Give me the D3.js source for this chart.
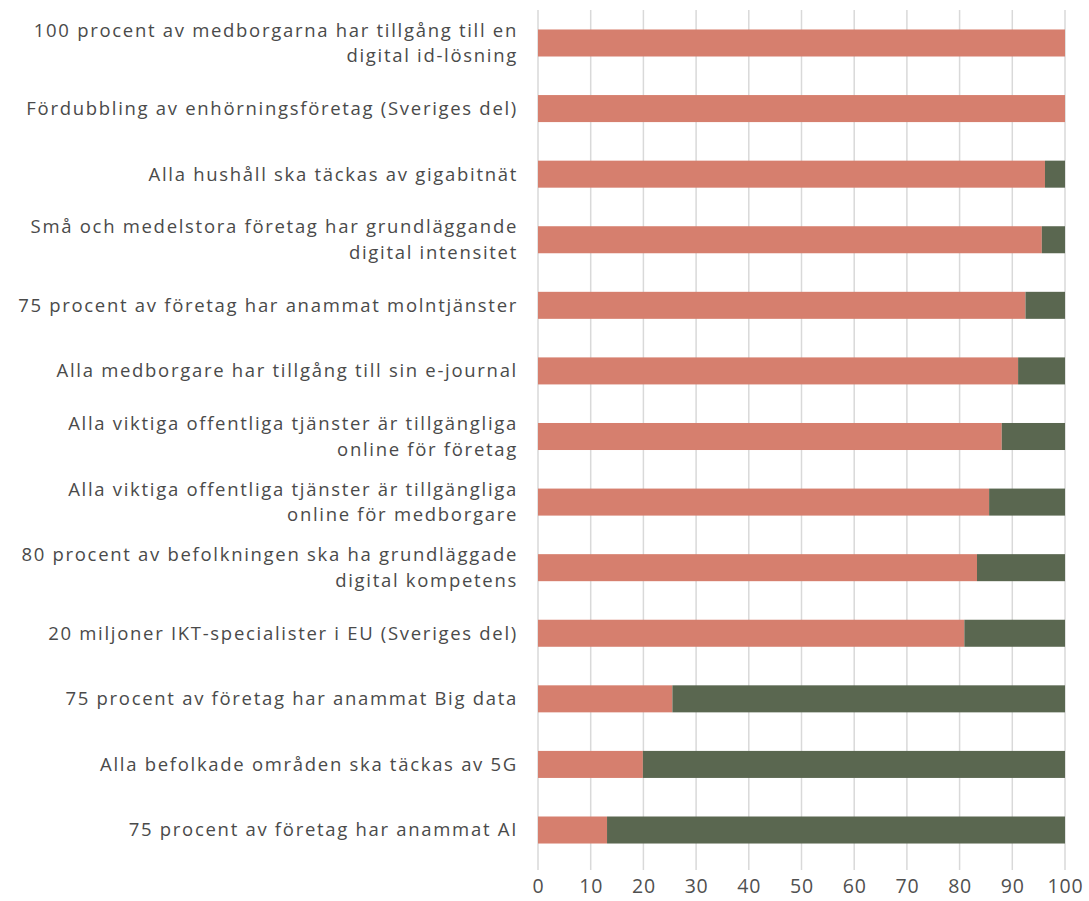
<!DOCTYPE html>
<html>
<head>
<meta charset="utf-8">
<script src="https://cdn.jsdelivr.net/npm/d3@7"></script>
<style>
  html, body { margin: 0; padding: 0; background: #fff; }
  svg { display: block; }
</style>
</head>
<body>
<svg id="chart" width="1089" height="901"></svg>
<script>
const categories = [
  "100 procent av medborgarna har tillgång till en\ndigital id-lösning",
  "Fördubbling av enhörningsföretag (Sveriges del)",
  "Alla hushåll ska täckas av gigabitnät",
  "Små och medelstora företag har grundläggande\ndigital intensitet",
  "75 procent av företag har anammat molntjänster",
  "Alla medborgare har tillgång till sin e-journal",
  "Alla viktiga offentliga tjänster är tillgängliga\nonline för företag",
  "Alla viktiga offentliga tjänster är tillgängliga\nonline för medborgare",
  "80 procent av befolkningen ska ha grundläggade\ndigital kompetens",
  "20 miljoner IKT-specialister i EU (Sveriges del)",
  "75 procent av företag har anammat Big data",
  "Alla befolkade områden ska täckas av 5G",
  "75 procent av företag har anammat AI"
];
const achieved = [100, 100, 96.2, 95.6, 92.5, 91.1, 88.0, 85.6, 83.3, 80.9, 25.5, 19.9, 13.1];
const remaining = [0, 0, 3.8, 4.4, 7.5, 8.9, 12.0, 14.4, 16.7, 19.1, 74.5, 80.1, 86.9];
const xTicks = [0, 10, 20, 30, 40, 50, 60, 70, 80, 90, 100];
const seriesKeys = ["achieved", "remaining"];
const seriesColors = ["#D67F6E", "#5A6750"];

(function () {
const rows = categories.map((c, i) => ({ cat: c, achieved: achieved[i], remaining: remaining[i] }));

const svg = d3.select("#chart");
const mLeft = 538, mRight = 1065, mTop = 10, mBottom = 863;

const x = d3.scaleLinear().domain([0, 100]).range([mLeft, mRight]);
const y = d3.scaleBand().domain(categories).range([mTop, mBottom])
  .paddingInner(0.588).paddingOuter(0.297);

// gridlines
svg.append("g").selectAll("line").data(xTicks).join("line")
  .attr("x1", d => x(d)).attr("x2", d => x(d))
  .attr("y1", mTop).attr("y2", mBottom + 7)
  .attr("stroke", "#d9d9d9").attr("stroke-width", 1.5);

// stacked bars
const stack = d3.stack().keys(seriesKeys)(rows);
svg.append("g").selectAll("g").data(stack).join("g")
  .attr("fill", (d, i) => seriesColors[i])
  .selectAll("rect").data(d => d).join("rect")
  .attr("x", d => x(d[0]))
  .attr("width", d => x(d[1]) - x(d[0]))
  .attr("y", d => y(d.data.cat))
  .attr("height", y.bandwidth());

// x axis labels
const xAxis = d3.axisBottom(x).tickValues(xTicks).tickSize(0).tickPadding(0);
const gx = svg.append("g").attr("transform", `translate(0, ${mBottom + 17})`).call(xAxis);
gx.select(".domain").remove();
gx.selectAll("text")
  .attr("font-family", "Open Sans, sans-serif")
  .attr("font-size", 19.5)
  .attr("letter-spacing", 0.8)
  .attr("fill", "#505050")
  .attr("dy", "0.68em");

// y axis labels (multi-line)
const lineH = 25.5;
const gy = svg.append("g");
categories.forEach(c => {
  const lines = c.split("\n");
  const cy = y(c) + y.bandwidth() / 2;
  const t = gy.append("text")
    .attr("x", mLeft - 20)
    .attr("text-anchor", "end")
    .attr("font-family", "Open Sans, sans-serif")
    .attr("font-size", 18.5)
    .attr("letter-spacing", 1.7)
    .attr("fill", "#4a4a4a");
  lines.forEach((ln, j) => {
    t.append("tspan")
      .attr("x", mLeft - 20)
      .attr("y", cy + (j - (lines.length - 1) / 2) * lineH)
      .attr("dy", "0.35em")
      .text(ln);
  });
});
})();
</script>
</body>
</html>
